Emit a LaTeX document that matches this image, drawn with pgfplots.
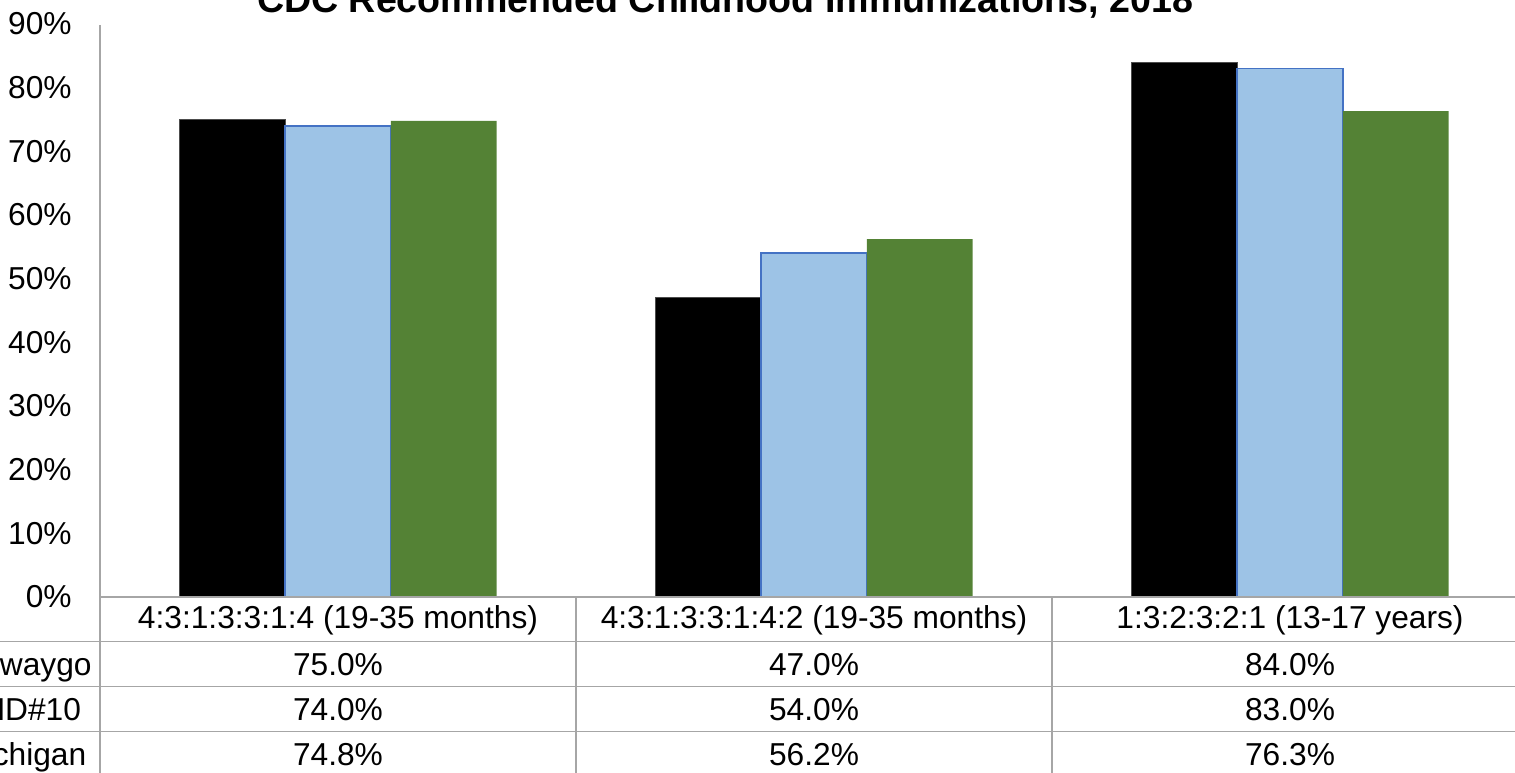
\documentclass[border=0pt]{standalone}
\usepackage{fontspec}
\setmainfont{Liberation Sans}
\usepackage{pgfplots}
\pgfplotsset{compat=1.18}
\definecolor{linegray}{RGB}{166,166,166}
\definecolor{lblue}{RGB}{157,195,230}
\definecolor{bblue}{RGB}{68,114,196}
\definecolor{dgreen}{RGB}{84,130,53}
\newcommand{\bodyfont}{\fontsize{15.85}{19}\selectfont}
\begin{document}
\begin{tikzpicture}
\begin{axis}[
  name=ax,
  scale only axis,
  width=714pt, height=286.5pt,
  xmin=-0.5, xmax=2.5, ymin=0, ymax=90,
  axis line style={draw=none},
  ybar=0pt, bar width=0.222,
  xtick=\empty,
  ytick={0,10,...,90},
  yticklabel={\pgfmathprintnumber{\tick}\%},
  /pgf/number format/assume math mode=true,
  ytick style={draw=none},
  yticklabel style={anchor=east, inner sep=0pt, xshift=-14pt, font=\bodyfont},
  clip=false,
]
\addplot[fill=black, draw=black!70, line width=0.4pt] coordinates {(0,75.0) (1,47.0) (2,84.0)};
\addplot[fill=lblue, draw=bblue, line width=0.8pt] coordinates {(0,74.0) (1,54.0) (2,83.0)};
\addplot[fill=dgreen, draw=none] coordinates {(0,74.8) (1,56.2) (2,76.3)};
\end{axis}
\begin{scope}[shift={(ax.south west)}]
\begin{scope}[shift={(-50pt,298.5pt)}, x=0.5pt, y=-0.5pt]
  % title
  \node[anchor=base, font=\fontsize{18.8}{22}\selectfont\bfseries, inner sep=0pt] at (725,13) {CDC Recommended Childhood Immunizations, 2018};
  % table lines
  \draw[linegray, line width=0.75pt] (100,25) -- (100,790);
  \draw[linegray, line width=0.75pt] (100,597) -- (1528,597);
  \foreach \yy in {641.7,686.7,731.7,776.7} {
    \draw[linegray, line width=0.75pt] (-200,\yy) -- (1528,\yy);
  }
  \foreach \xx in {576,1052,1528} {
    \draw[linegray, line width=0.75pt] (\xx,597) -- (\xx,790);
  }
  % category labels
  \node[anchor=base, inner sep=0pt, font=\bodyfont] at (338,628.5) {4:3:1:3:3:1:4 (19-35 months)};
  \node[anchor=base, inner sep=0pt, font=\bodyfont] at (814,628.5) {4:3:1:3:3:1:4:2 (19-35 months)};
  \node[anchor=base, inner sep=0pt, font=\bodyfont] at (1290,628.5) {1:3:2:3:2:1 (13-17 years)};
  % row labels
  \node[anchor=base west, inner sep=0pt, font=\bodyfont] at (-41,675) {Newaygo};
  \node[anchor=base west, inner sep=0pt, font=\bodyfont] at (-41,720) {DHD\#10};
  \node[anchor=base west, inner sep=0pt, font=\bodyfont] at (-41,765) {Michigan};
  % values
  \node[anchor=base, inner sep=0pt, font=\bodyfont] at (338,675) {75.0\%};
  \node[anchor=base, inner sep=0pt, font=\bodyfont] at (814,675) {47.0\%};
  \node[anchor=base, inner sep=0pt, font=\bodyfont] at (1290,675) {84.0\%};
  \node[anchor=base, inner sep=0pt, font=\bodyfont] at (338,720) {74.0\%};
  \node[anchor=base, inner sep=0pt, font=\bodyfont] at (814,720) {54.0\%};
  \node[anchor=base, inner sep=0pt, font=\bodyfont] at (1290,720) {83.0\%};
  \node[anchor=base, inner sep=0pt, font=\bodyfont] at (338,765) {74.8\%};
  \node[anchor=base, inner sep=0pt, font=\bodyfont] at (814,765) {56.2\%};
  \node[anchor=base, inner sep=0pt, font=\bodyfont] at (1290,765) {76.3\%};
  \pgfresetboundingbox
  \path (0,0) rectangle (1515,772);
\end{scope}
\end{scope}
\end{tikzpicture}
\end{document}
